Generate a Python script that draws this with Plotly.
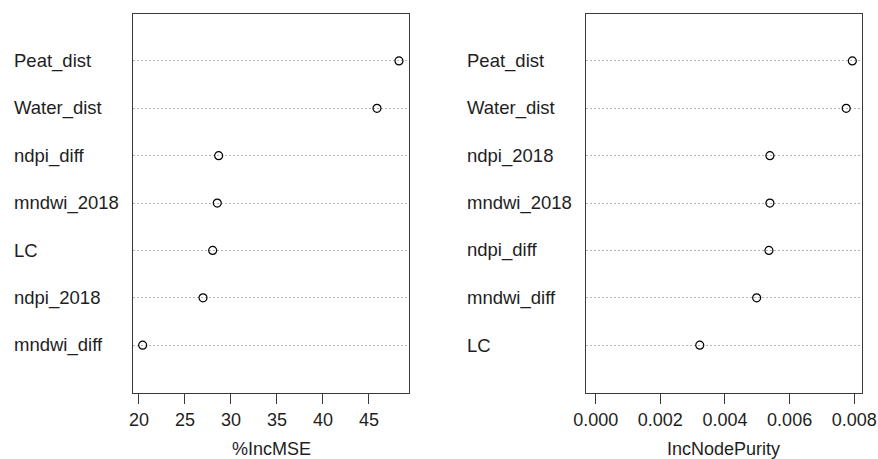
import plotly.graph_objects as go

# Left panel (%IncMSE), top to bottom
vars_mse = ["Peat_dist", "Water_dist", "ndpi_diff", "mndwi_2018", "LC", "ndpi_2018", "mndwi_diff"]
vals_mse = [48.26, 45.87, 28.66, 28.51, 28.01, 26.96, 20.4]
# Right panel (IncNodePurity), top to bottom
vars_np = ["Peat_dist", "Water_dist", "ndpi_2018", "mndwi_2018", "ndpi_diff", "mndwi_diff", "LC"]
vals_np = [0.00794, 0.00775, 0.00539, 0.00539, 0.00536, 0.00498, 0.00322]

ticks_mse = [20, 25, 30, 35, 40, 45]
ticks_np = [0.000, 0.002, 0.004, 0.006, 0.008]
title_mse = "%IncMSE"
title_np = "IncNodePurity"

W, H = 878, 459
FONT = "Liberation Sans, Arial, sans-serif"
TXT = "#1e1e1e"
LINE = "#3a3a3a"

fig = go.Figure()
fig.add_trace(go.Scatter(x=vals_mse[::-1], y=vars_mse[::-1], mode="markers",
                         marker=dict(symbol="circle-open", size=8, color="black", line=dict(width=1.2, color="black")),
                         xaxis="x", yaxis="y", showlegend=False, hoverinfo="skip"))
fig.add_trace(go.Scatter(x=vals_np[::-1], y=vars_np[::-1], mode="markers",
                         marker=dict(symbol="circle-open", size=8, color="black", line=dict(width=1.2, color="black")),
                         xaxis="x2", yaxis="y2", showlegend=False, hoverinfo="skip"))

top = 1 - 14 / H
bot = 1 - 393 / H
xaxis_common = dict(showline=True, mirror=True, linecolor=LINE, linewidth=1.3,
                    ticks="outside", ticklen=10, tickwidth=1.3, tickcolor=LINE,
                    showgrid=False, zeroline=False, automargin=False,
                    tickfont=dict(family=FONT, size=18, color=TXT))
yaxis_common = dict(showline=True, mirror=True, linecolor=LINE, linewidth=1.3,
                    showticklabels=False, ticks="", type="category", automargin=False,
                    showgrid=True, gridcolor="#b4b4b4", griddash="1.5px,2.5px", gridwidth=1,
                    zeroline=False, range=[-1.01, 6.99])

fig.update_layout(
    width=W, height=H, autosize=False,
    margin=dict(l=0, r=0, t=0, b=0, pad=0, autoexpand=False),
    paper_bgcolor="white", plot_bgcolor="white",
    xaxis=dict(domain=[133 / W, 409 / W], range=[19.35, 49.35], tickvals=ticks_mse,
               anchor="y", **xaxis_common),
    yaxis=dict(domain=[bot, top], anchor="x", **yaxis_common),
    xaxis2=dict(domain=[586 / W, 861.7 / W], range=[-0.0003, 0.00823], tickvals=ticks_np,
                tickformat=".3f", anchor="y2", **xaxis_common),
    yaxis2=dict(domain=[bot, top], anchor="x2", **yaxis_common),
)

anns = []
for i, name in enumerate(vars_mse[::-1]):
    anns.append(dict(x=12 / W, xref="paper", y=i, yref="y", text=name, showarrow=False,
                     xanchor="left", yanchor="middle", font=dict(family=FONT, size=18.5, color=TXT)))
for i, name in enumerate(vars_np[::-1]):
    anns.append(dict(x=465 / W, xref="paper", y=i, yref="y2", text=name, showarrow=False,
                     xanchor="left", yanchor="middle", font=dict(family=FONT, size=18.5, color=TXT)))
anns.append(dict(x=271 / W, xref="paper", y=1 - 449 / H, yref="paper", text=title_mse, showarrow=False,
                 xanchor="center", yanchor="middle", font=dict(family=FONT, size=18, color=TXT)))
anns.append(dict(x=723.8 / W, xref="paper", y=1 - 449 / H, yref="paper", text=title_np, showarrow=False,
                 xanchor="center", yanchor="middle", font=dict(family=FONT, size=18, color=TXT)))
fig.update_layout(annotations=anns)

fig.write_html("out.html", config={"responsive": False, "displayModeBar": False},
               post_script="document.body.style.margin='0';document.body.style.overflow='hidden';")
